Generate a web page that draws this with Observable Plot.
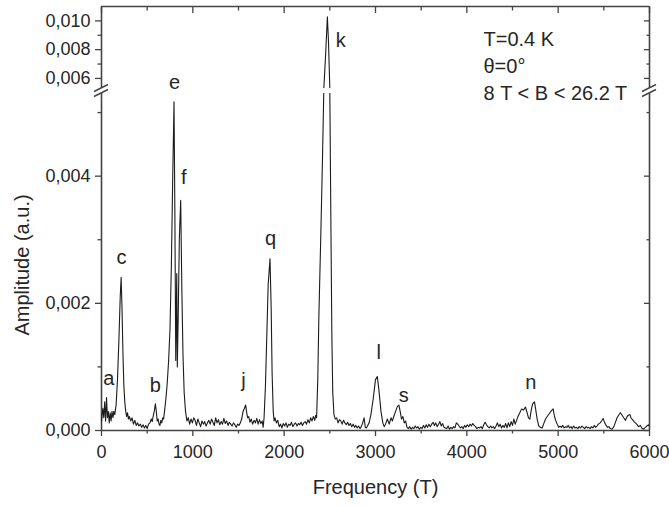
<!DOCTYPE html>
<html>
<head>
<meta charset="utf-8">
<script src="https://cdn.jsdelivr.net/npm/d3@7"></script>
<script src="https://cdn.jsdelivr.net/npm/@observablehq/plot@0.6"></script>
<style>
  html, body { margin: 0; padding: 0; background: #fff; }
  #chart { position: relative; width: 669px; height: 506px; }
  #chart svg { position: absolute; left: 0; overflow: visible; }
</style>
</head>
<body>
<div id="chart"></div>
<script>
// ---- data ----
const frequency = [
  0, 15, 25, 35, 45, 55, 65, 75, 85, 95, 105, 115, 125, 135, 145, 160, 175, 190, 205, 215,
  225, 235, 245, 255, 265, 275, 285, 295, 305, 320, 335, 350, 365, 380, 395, 410, 425, 440, 455, 470,
  485, 500, 515, 530, 545, 555, 565, 580, 590, 600, 610, 620, 630, 640, 650, 660, 670, 680, 690, 705,
  720, 735, 750, 765, 780, 794, 803, 813, 824, 830, 840, 852, 867, 880, 892, 905, 920, 935, 950, 965,
  980, 995, 1010, 1025, 1040, 1055, 1070, 1085, 1100, 1115, 1130, 1145, 1160, 1175, 1190, 1205, 1220, 1235, 1250, 1265,
  1280, 1295, 1310, 1325, 1340, 1355, 1370, 1385, 1400, 1415, 1430, 1445, 1460, 1475, 1490, 1505, 1520, 1535, 1550, 1565,
  1578, 1590, 1600, 1612, 1625, 1640, 1655, 1670, 1685, 1700, 1715, 1730, 1745, 1760, 1770, 1780, 1795, 1810, 1825, 1845,
  1858, 1868, 1880, 1890, 1900, 1915, 1930, 1945, 1960, 1975, 1990, 2005, 2020, 2035, 2050, 2065, 2080, 2095, 2110, 2125,
  2140, 2155, 2170, 2185, 2200, 2215, 2230, 2245, 2260, 2275, 2290, 2305, 2320, 2335, 2345, 2355, 2368, 2380, 2400, 2420,
  2436, 2455, 2473, 2485, 2500, 2512, 2522, 2532, 2545, 2560, 2575, 2590, 2605, 2620, 2635, 2650, 2665, 2680, 2695, 2710,
  2725, 2740, 2755, 2770, 2785, 2800, 2815, 2830, 2845, 2860, 2875, 2888, 2900, 2915, 2930, 2950, 2975, 3000, 3020, 3040,
  3060, 3080, 3095, 3110, 3130, 3150, 3170, 3185, 3200, 3220, 3240, 3256, 3270, 3285, 3300, 3315, 3330, 3345, 3360, 3375,
  3390, 3405, 3420, 3435, 3450, 3465, 3480, 3495, 3510, 3525, 3540, 3555, 3570, 3585, 3600, 3615, 3630, 3645, 3660, 3675,
  3690, 3705, 3720, 3735, 3750, 3765, 3780, 3795, 3810, 3825, 3840, 3855, 3870, 3885, 3900, 3915, 3930, 3945, 3960, 3975,
  3990, 4005, 4020, 4035, 4050, 4065, 4080, 4095, 4110, 4125, 4140, 4155, 4170, 4185, 4200, 4215, 4230, 4245, 4260, 4275,
  4290, 4305, 4320, 4335, 4350, 4365, 4380, 4395, 4410, 4425, 4440, 4455, 4470, 4485, 4500, 4515, 4530, 4545, 4560, 4580,
  4600, 4620, 4642, 4660, 4675, 4690, 4705, 4720, 4741, 4755, 4770, 4788, 4805, 4825, 4845, 4862, 4880, 4900, 4920, 4945,
  4960, 4975, 4990, 5005, 5020, 5035, 5050, 5065, 5080, 5095, 5110, 5125, 5140, 5155, 5170, 5185, 5200, 5215, 5230, 5245,
  5260, 5275, 5290, 5305, 5320, 5335, 5350, 5365, 5380, 5395, 5410, 5425, 5440, 5460, 5475, 5492, 5510, 5525, 5540, 5555,
  5570, 5590, 5610, 5625, 5645, 5662, 5682, 5700, 5718, 5737, 5755, 5770, 5785, 5800, 5815, 5830, 5845, 5860, 5880, 5900,
  5915, 5935, 5955, 5970, 5990, 6000
];
const amplitude = [
  0.00015, 0.00035, 0.0002, 0.00045, 0.00015, 0.00052, 0.0002, 0.0003, 0.00012, 0.00028, 0.00015, 0.0003, 0.0002, 0.0003, 0.00025, 0.0004, 0.0008, 0.0014, 0.0021, 0.00241,
  0.0019, 0.0012, 0.0007, 0.00045, 0.0003, 0.00022, 0.00028, 0.00018, 0.00022, 0.00015, 0.0002, 0.0001, 0.00016, 0.00008, 0.00012, 0.00007, 0.0001, 0.00005, 0.00009, 0.00004,
  0.00008, 0.00003, 0.0001, 0.00012, 0.00018, 0.00014, 0.00022, 0.00032, 0.00042, 0.0003, 0.00015, 0.00018, 0.0001, 0.00008, 0.00016, 0.00012, 0.0002, 0.00018, 0.0003, 0.0005,
  0.00075, 0.0011, 0.0016, 0.0026, 0.004, 0.00517, 0.0035, 0.0011, 0.00247, 0.001, 0.0018, 0.003, 0.00362, 0.0022, 0.0012, 0.0006, 0.0003, 0.00015, 0.0002, 0.0001,
  0.00018, 0.00012, 0.0002, 0.00016, 0.00008, 0.00018, 0.00012, 0.00006, 0.00015, 0.0001, 0.00014, 0.00007, 0.00012, 0.00016, 0.0001, 0.00018, 0.00013, 0.00008, 0.0002, 0.00012,
  0.00017, 0.00009, 0.00014, 0.0001, 0.00019, 0.00011, 0.00015, 0.00008, 0.00013, 0.0001, 0.00007, 0.00012, 0.00009, 0.00005, 0.0001, 0.00008, 0.00012, 0.00018, 0.0003, 0.00035,
  0.0004, 0.00028, 0.0002, 0.00022, 0.00013, 0.00018, 0.0001, 0.00016, 0.00012, 0.00019, 0.0001, 0.00017, 0.00011, 0.00015, 0.00005, 0.0002, 0.0007, 0.0015, 0.0023, 0.0027,
  0.0019, 0.0009, 0.0003, 0.00015, 0.0002, 0.00012, 0.00016, 0.00006, 0.0001, 0.00004, 0.00011, 0.00007, 0.00012, 0.00005, 0.0001, 0.00008, 0.00013, 0.00006, 0.0001, 0.00012,
  0.00007, 0.00011, 0.00009, 0.00013, 0.00008, 0.00012, 0.00014, 0.0001, 0.00017, 0.00012, 0.0002, 0.00015, 0.00022, 0.00016, 0.00024, 0.0002, 0.0008, 0.0018, 0.003, 0.0043,
  0.0055, 0.0078, 0.01028, 0.0086, 0.0053, 0.0032, 0.0015, 0.0006, 0.00025, 0.00018, 0.0002, 0.00012, 0.00017, 0.00015, 0.0001, 0.00016, 0.00012, 0.00009, 0.00013, 0.00008,
  0.00011, 0.00006, 0.0001, 0.00005, 0.00008, 0.00004, 0.00007, 0.00003, 0.00006, 0.00012, 0.0002, 0.00005, 0.00004, 0.00008, 0.00012, 0.00025, 0.0005, 0.0008, 0.00085, 0.0006,
  0.0003, 0.00012, 0.00006, 0.0001, 0.00018, 0.0001, 0.0002, 0.00015, 0.00022, 0.0003, 0.00038, 0.0004, 0.0003, 0.00018, 0.00022, 0.00012, 0.00015, 0.00005, 0.00003, 0.00006,
  0.00002, 0.00005, 0.00003, 0.00007, 0.00004, 0.00006, 0.00002, 0.00005, 0.00003, 0.00008, 0.00004, 0.00009, 0.00005, 0.0001, 0.00006, 0.0001, 0.00013, 0.00008, 0.00012, 0.00006,
  0.0001, 0.00014, 0.00007, 0.00011, 0.00005, 0.00004, 0.00003, 0.00007, 0.00002, 0.00005, 0.00003, 0.00006, 0.00004, 0.00012, 0.0001, 0.00007, 0.00004, 0.00006, 0.00003, 0.00008,
  0.00005, 0.00009, 0.00006, 0.0001, 0.00007, 0.00011, 0.00008, 0.00006, 0.00003, 0.00005, 0.00004, 0.00006, 0.00003, 0.00009, 0.00013, 0.00009, 0.00006, 0.00004, 0.00007, 0.00004,
  0.00006, 0.00003, 0.00007, 0.00012, 0.00006, 0.0001, 0.00004, 0.00008, 0.00005, 0.00011, 0.00004, 0.00012, 0.00006, 0.00014, 0.00008, 0.00018, 0.0001, 0.00016, 0.00022, 0.00028,
  0.00034, 0.00032, 0.00037, 0.00028, 0.0002, 0.00018, 0.00032, 0.00042, 0.00045, 0.00032, 0.00018, 0.00007, 0.00005, 0.00004, 0.00012, 0.00018, 0.00022, 0.00026, 0.0003, 0.00034,
  0.00022, 0.00015, 0.0001, 0.00005, 0.00007, 0.00005, 0.00008, 0.00004, 0.00006, 0.00005, 0.00008, 0.00004, 0.00006, 0.00003, 0.00007, 0.00004, 0.00005, 0.00003, 0.00006, 0.00004,
  0.00007, 0.00005, 0.00003, 0.00006, 0.00004, 0.00005, 0.00003, 0.00006, 0.00004, 0.00008, 0.00005, 0.00007, 0.0001, 0.00012, 0.00015, 0.00019, 0.00012, 0.00008, 0.00005, 0.00006,
  0.00003, 0.00002, 0.00006, 0.00012, 0.0002, 0.00024, 0.00028, 0.00024, 0.0002, 0.00016, 0.00022, 0.00024, 0.00025, 0.00019, 0.00017, 0.00014, 0.00012, 0.0001, 0.00006, 0.00008,
  0.00004, 0.00002, 0.00005, 0.00007, 0.00009, 0.00006
];

// peak labels (placed just above their peaks)
const peakLabels = ["a", "b", "c", "e", "f", "j", "q", "k", "l", "s", "n"];
const labelFreq  = [80, 590, 220, 800, 900, 1555, 1850, 2620, 3035, 3310, 4700];
const labelAmp   = [0.00082, 0.00071, 0.00272, 0.00573, 0.00397, 0.00079, 0.00302, 0.00864, 0.00123, 0.00055, 0.00076];

const conditions = ["T=0.4 K", "θ=0°", "8 T < B < 26.2 T"];

const xMajorTicks = [0, 1000, 2000, 3000, 4000, 5000, 6000];
const xMinorTicks = [500, 1500, 2500, 3500, 4500, 5500];
const yMajorTicks = [0, 0.002, 0.004, 0.006, 0.008, 0.010];
const yMinorTicks = [0.001, 0.003, 0.005, 0.007, 0.009];

// broken y axis: lower panel 0..yBreak, upper panel yBreak..yTop
const yBreak = 0.0053, yTop = 0.011;

// ---- chart ----
const spectrum = frequency.map((f, i) => ({f, a: amplitude[i]}));
const labels = peakLabels.map((t, i) => ({t, f: labelFreq[i], a: labelAmp[i]}));
const fmtY = d => d.toFixed(3).replace(".", ",");
const noText = () => "";
const ink = "#262626", axisInk = "#444";
const W = 669, mL = 101, mR = 20;
const upperH = 88, lowerTop = 93, lowerH = 506 - 93, mT = 6, mB = 76;
const font = "'Liberation Sans', Arial, Helvetica, sans-serif";
const inUpper = d => d >= yBreak && d <= yTop;
const inLower = d => d >= 0 && d < yBreak;
const tickStyle = {stroke: axisInk, strokeWidth: 1.3, label: null};

function panel(isUpper) {
  const inside = isUpper ? inUpper : inLower;
  const marks = [
    Plot.ruleX([0, 6000], {stroke: axisInk, strokeWidth: 1.6}),
    Plot.ruleY([isUpper ? yTop : 0], {stroke: axisInk, strokeWidth: 1.6}),
    Plot.axisY({anchor: "left", ticks: yMajorTicks.filter(inside), tickSize: 6, tickPadding: 5, tickFormat: fmtY, fontSize: 18, fill: ink, ...tickStyle}),
    Plot.axisY({anchor: "left", ticks: yMinorTicks.filter(inside), tickSize: 3.5, tickFormat: noText, ...tickStyle}),
    Plot.axisY({anchor: "right", ticks: yMajorTicks.filter(inside), tickSize: -6, tickFormat: noText, ...tickStyle}),
    Plot.axisY({anchor: "right", ticks: yMinorTicks.filter(inside), tickSize: -3.5, tickFormat: noText, ...tickStyle}),
    Plot.line(spectrum, {x: "f", y: "a", stroke: "#1c1c1c", strokeWidth: 1.1, clip: true}),
    Plot.text(labels.filter(d => inside(d.a)), {x: "f", y: "a", text: "t", fontSize: 20, fill: ink, textAnchor: "middle", lineAnchor: "middle"})
  ];
  if (isUpper) {
    marks.push(
      Plot.axisX({anchor: "top", ticks: xMajorTicks, tickSize: -6, tickFormat: noText, ...tickStyle}),
      Plot.axisX({anchor: "top", ticks: xMinorTicks, tickSize: -3.5, tickFormat: noText, ...tickStyle}),
      Plot.text([conditions.join("\n")], {frameAnchor: "top-left", dx: 382, dy: 58, lineAnchor: "middle", lineHeight: 1.33, textAnchor: "start", fontSize: 20, fill: ink})
    );
  } else {
    marks.push(
      Plot.axisX({anchor: "bottom", ticks: xMajorTicks, tickSize: 6, tickPadding: 9, tickFormat: d => String(d), fontSize: 18, fill: ink, ...tickStyle}),
      Plot.axisX({anchor: "bottom", ticks: xMinorTicks, tickSize: 3.5, tickFormat: noText, ...tickStyle}),
      Plot.text(["Frequency (T)"], {frameAnchor: "bottom", dy: 57, fontSize: 20, fill: ink, lineAnchor: "middle"}),
      Plot.text(["Amplitude (a.u.)"], {frameAnchor: "left", dx: -79, dy: 3, rotate: -90, fontSize: 20, fill: ink, lineAnchor: "middle", textAnchor: "middle"})
    );
  }
  return Plot.plot({
    width: W,
    height: isUpper ? upperH : lowerH,
    marginLeft: mL, marginRight: mR,
    marginTop: isUpper ? mT : 0,
    marginBottom: isUpper ? 0 : mB,
    style: {fontFamily: font, fontSize: "18px", color: ink, background: "transparent", overflow: "visible"},
    x: {domain: [0, 6000]},
    y: {domain: isUpper ? [yBreak, yTop] : [0, yBreak]},
    marks
  });
}

const chart = document.getElementById("chart");
const lower = panel(false);
const upper = panel(true);
lower.style.top = lowerTop + "px";
upper.style.top = "0px";
chart.appendChild(lower);
chart.appendChild(upper);

// axis-break marks (slanted strokes) on both vertical axes
function slashes(svgNode, y) {
  const s = d3.select(svgNode);
  for (const X of [mL, W - mR]) {
    s.append("line").attr("x1", X - 7).attr("y1", y + 3.5).attr("x2", X + 7).attr("y2", y - 3.5)
      .attr("stroke", axisInk).attr("stroke-width", 1.5);
  }
}
slashes(upper, upper.scale("y").apply(yBreak));
slashes(lower, lower.scale("y").apply(yBreak));
</script>
</body>
</html>
